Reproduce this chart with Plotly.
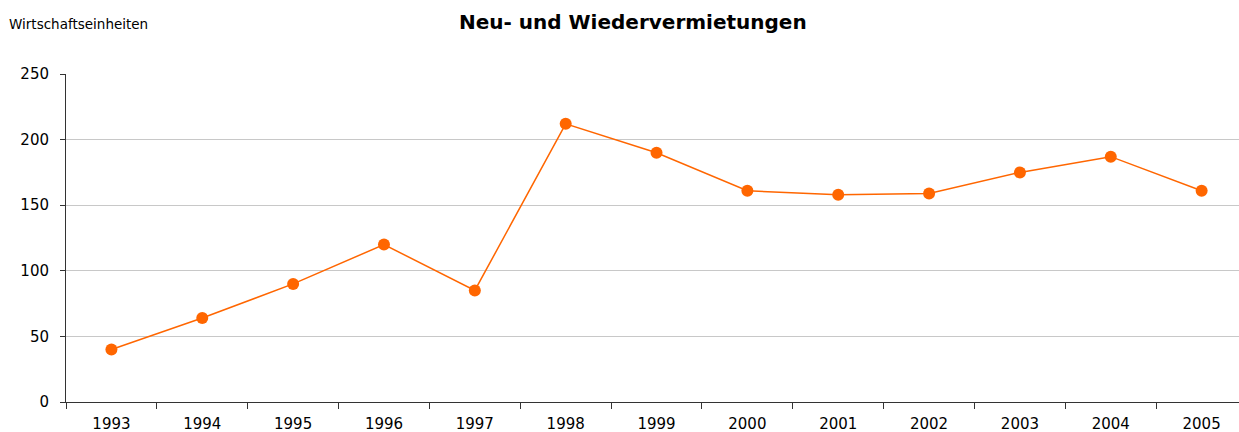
import plotly.graph_objects as go

years = ["1993", "1994", "1995", "1996", "1997", "1998", "1999",
         "2000", "2001", "2002", "2003", "2004", "2005"]
values = [40, 64, 90, 120, 85, 212, 190, 161, 158, 159, 175, 187, 161]
y_ticks = [0, 50, 100, 150, 200, 250]

title_text = "Neu- und Wiedervermietungen"
y_label = "Wirtschaftseinheiten"

W, H = 1240, 432
L, R, T, B = 66, 0, 74, 30
pw, ph = W - L - R, H - T - B
unit_px = 90.85  # pixels per category
x_end = -0.5 + pw / unit_px


def px_to_paper(x, y):
    return (x - L) / pw, (H - B - y) / ph


tx, ty = px_to_paper(633, 22)
lx, ly = px_to_paper(7, 24)

fig = go.Figure()
fig.add_trace(go.Scatter(
    x=years, y=values, mode="lines+markers",
    line=dict(color="#FF6600", width=1.5),
    marker=dict(color="#FF6600", size=12),
    showlegend=False,
))

fig.update_layout(
    width=W, height=H,
    margin=dict(l=L, r=R, t=T, b=B),
    paper_bgcolor="white", plot_bgcolor="white",
    font=dict(family="DejaVu Sans", color="#000000"),
    annotations=[
        dict(text="<b>" + title_text + "</b>", x=tx, y=ty, xref="paper", yref="paper",
             showarrow=False, font=dict(size=20, family="DejaVu Sans"),
             xanchor="center", yanchor="middle"),
        dict(text=y_label, x=lx, y=ly, xref="paper", yref="paper", showarrow=False,
             font=dict(size=13.5, family="DejaVu Sans"),
             xanchor="left", yanchor="middle"),
    ],
)

fig.update_xaxes(
    type="category", range=[-0.5, x_end], automargin=False,
    tickson="boundaries", ticks="outside", ticklen=6, tickcolor="#333333",
    showline=True, linecolor="#333333", linewidth=1,
    showgrid=False, tickfont=dict(size=15, family="DejaVu Sans"),
    ticklabelstandoff=8,
)
fig.update_yaxes(
    range=[0, 250], tickvals=y_ticks, ticks="outside", ticklen=5, automargin=False,
    tickcolor="#333333", showline=True, linecolor="#333333", linewidth=1,
    showgrid=True, gridcolor="#C8C8C8", gridwidth=1, zeroline=False,
    tickfont=dict(size=15, family="DejaVu Sans"),
    ticklabelstandoff=8,
)

fig.write_html(
    "out.html",
    config={"displayModeBar": False},
    post_script="document.body.style.margin='0';document.body.style.overflow='hidden';",
)
